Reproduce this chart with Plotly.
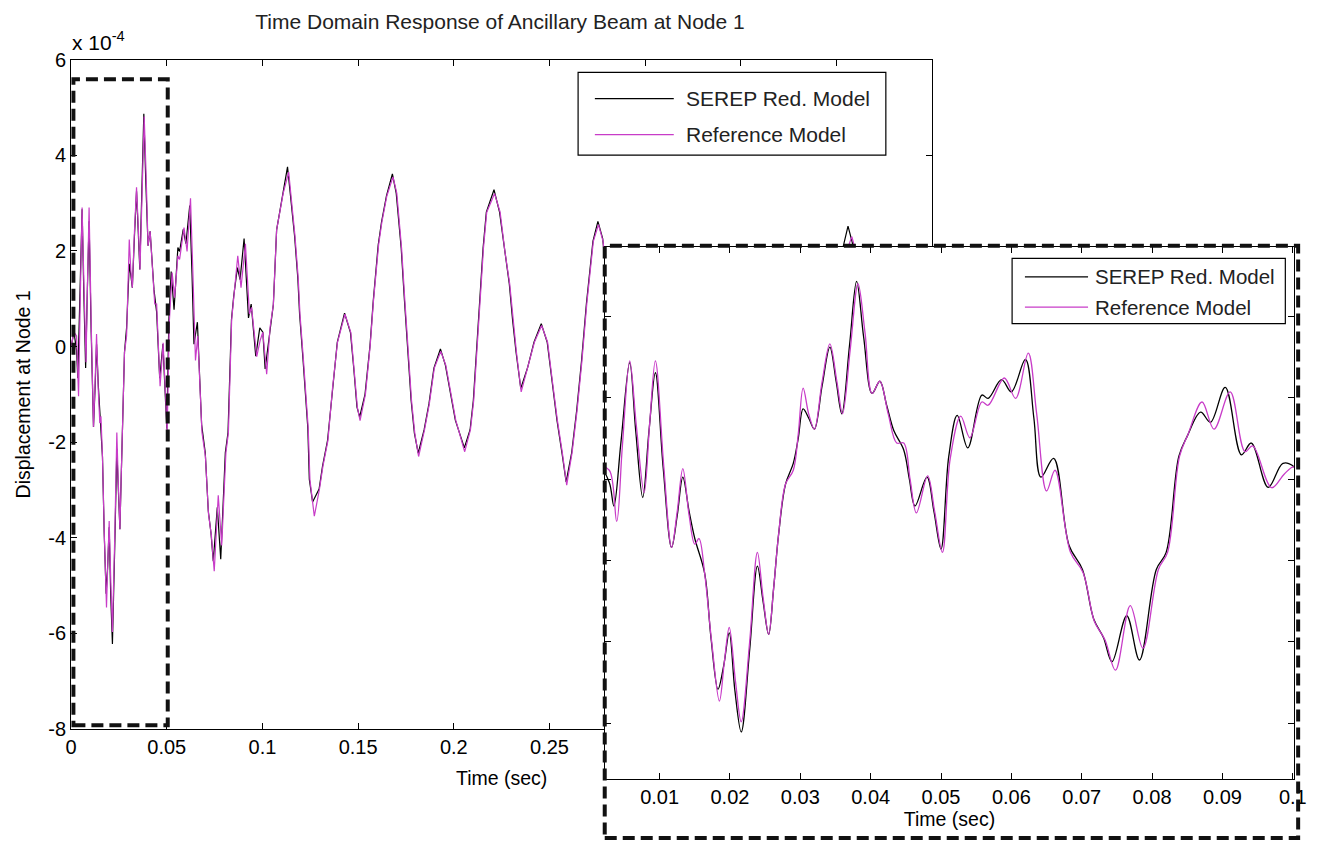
import plotly.graph_objects as go

# ---------------- data (displacement in units of 1e-4) ----------------
t_serep = [0.0, 0.0015, 0.00285, 0.0035, 0.0045, 0.00575, 0.0066, 0.0076, 0.0085, 0.0094,
           0.0105, 0.0117, 0.0125, 0.0133, 0.0142, 0.015, 0.0164, 0.0173, 0.0183, 0.0191,
           0.0199, 0.0207, 0.0216, 0.0228, 0.0239, 0.0247, 0.0255, 0.0262, 0.0269, 0.0279,
           0.029, 0.0297, 0.0304, 0.0312, 0.032, 0.0331, 0.0342, 0.0351, 0.0359, 0.037,
           0.038, 0.039, 0.0402, 0.0413, 0.0423, 0.0433, 0.0447, 0.0455, 0.0463, 0.048,
           0.049, 0.05, 0.0511, 0.0523, 0.0538, 0.0558, 0.0567, 0.0586, 0.06, 0.062,
           0.0632, 0.0642, 0.066, 0.0682, 0.0701, 0.0717, 0.0731, 0.0743, 0.0764, 0.0782,
           0.0806, 0.082, 0.0838, 0.085, 0.0869, 0.0883, 0.0904, 0.0927, 0.0941, 0.0965,
           0.0986, 0.1002, 0.1014, 0.104, 0.1057, 0.1074, 0.1091, 0.1108, 0.1131, 0.1151,
           0.1168, 0.1185, 0.1194, 0.1212, 0.1237, 0.1245, 0.1262, 0.1296, 0.1314, 0.134,
           0.1365, 0.1391, 0.1429, 0.146, 0.1477, 0.1494, 0.1508, 0.1536, 0.1562, 0.1579,
           0.1605, 0.1622, 0.1648, 0.1679, 0.1699, 0.1725, 0.1742, 0.176, 0.1777, 0.1794,
           0.1814, 0.1845, 0.187, 0.1896, 0.193, 0.1956, 0.1982, 0.2008, 0.2055, 0.2085,
           0.2102, 0.2119, 0.2136, 0.2153, 0.217, 0.221, 0.2239, 0.2265, 0.229, 0.2307,
           0.2325, 0.235, 0.2385, 0.2419, 0.2457, 0.2488, 0.2513, 0.2539, 0.2565, 0.2587,
           0.2616, 0.2642, 0.2667, 0.2693, 0.2727, 0.2753, 0.2778, 0.282, 0.288, 0.296,
           0.304, 0.31, 0.316, 0.322, 0.33, 0.338, 0.346, 0.354, 0.362, 0.37,
           0.378, 0.386, 0.394, 0.4, 0.406, 0.412, 0.42, 0.428, 0.436, 0.444, 0.45]
serep = [0.0, 0.3, -0.08, -0.66, 0.9, 2.87, 1.2, -0.45, 1.2, 2.62,
         0.3, -1.68, -0.9, 0.05, -0.8, -1.46, -2.31, -3.9, -5.17, -4.6,
         -3.78, -5.2, -6.22, -4.2, -2.14, -3.0, -3.82, -2.7, -1.38, -0.12,
         0.39, 1.0, 1.73, 1.5, 1.23, 2.3, 3.25, 2.4, 1.61, 3.3,
         4.87, 3.5, 2.11, 2.41, 1.8, 1.19, 0.72, 0.0, -0.66, 0.05,
         -0.8, -1.72, 0.56, 1.57, 0.77, 2.07, 1.99, 2.45, 2.15, 2.95,
         1.5, 0.05, 0.51, -1.63, -2.22, -3.44, -3.9, -4.49, -3.36, -4.45,
         -2.22, -1.8, 0.56, 1.06, 1.65, 1.4, 2.26, 0.6, 0.89, -0.2,
         0.39, 0.3, -0.47, 0.41, 0.88, 2.44, 2.81, 3.25, 3.76, 2.98,
         2.31, 1.42, 0.68, -0.27, -1.7, -2.78, -3.25, -2.98, -2.5, -1.97,
         -0.88, 0.09, 0.7, 0.29, -0.45, -1.27, -1.47, -1.0, 0.02, 0.95,
         2.13, 2.6, 3.15, 3.61, 3.21, 2.06, 0.97, -0.1, -1.13, -1.81,
         -2.23, -1.74, -1.2, -0.45, -0.05, -0.39, -0.93, -1.54, -2.12, -1.74,
         -1.13, -0.11, 0.87, 2.06, 2.81, 3.28, 2.81, 1.99, 1.31, 0.56,
         -0.11, -0.875, -0.45, 0.09, 0.48, 0.09, -0.72, -1.54, -2.22, -2.83,
         -2.22, -1.34, -0.32, 0.9, 2.2, 2.62, 2.26, 0.5, -1.5, -2.6,
         -1.2, -0.3, -0.8, 0.2, 1.9, 0.8, -1.2, -1.9, -0.8, 0.3,
         -0.2, -0.9, 0.2, 1.5, 2.52, 1.6, -0.2, -1.5, -1.0, 0.2, 0.6]

t_ref = [0.0, 0.0015, 0.00285, 0.0039, 0.0047, 0.00575, 0.0067, 0.0078, 0.0086, 0.0094,
         0.0106, 0.0117, 0.0125, 0.0133, 0.0142, 0.015, 0.0156, 0.0164, 0.0174, 0.0185,
         0.0192, 0.0199, 0.0208, 0.0216, 0.0228, 0.0239, 0.0247, 0.0255, 0.0262, 0.0269,
         0.0279, 0.029, 0.0297, 0.0304, 0.0312, 0.032, 0.0331, 0.0342, 0.0352, 0.036,
         0.0371, 0.0382, 0.0392, 0.0402, 0.0413, 0.0425, 0.0437, 0.0447, 0.0456, 0.0465,
         0.0481, 0.0491, 0.0502, 0.0513, 0.0528, 0.0541, 0.0558, 0.0567, 0.059, 0.0606,
         0.0624, 0.0636, 0.065, 0.0662, 0.0684, 0.0702, 0.0718, 0.0733, 0.0748, 0.0769,
         0.0787, 0.0809, 0.0822, 0.0839, 0.0851, 0.0871, 0.0888, 0.0911, 0.0932, 0.0943,
         0.097, 0.0988, 0.1002, 0.1022, 0.104, 0.1057, 0.1074, 0.1091, 0.1108, 0.1137,
         0.1155, 0.117, 0.1187, 0.1196, 0.1214, 0.1239, 0.1248, 0.1271, 0.1298, 0.1316,
         0.1342, 0.1366, 0.1392, 0.1431, 0.1462, 0.1479, 0.1496, 0.151, 0.1538, 0.1563,
         0.158, 0.1607, 0.1624, 0.165, 0.1682, 0.1702, 0.1727, 0.1744, 0.1762, 0.1779,
         0.1796, 0.1816, 0.1847, 0.1872, 0.1898, 0.1932, 0.1958, 0.1984, 0.201, 0.2057,
         0.2087, 0.2104, 0.2121, 0.2138, 0.2155, 0.2172, 0.2213, 0.2242, 0.2267, 0.2292,
         0.2309, 0.2327, 0.2352, 0.2387, 0.2421, 0.2459, 0.249, 0.2515, 0.2541, 0.2567,
         0.259, 0.2618, 0.2644, 0.2669, 0.2695, 0.2729, 0.2756, 0.278, 0.282, 0.288,
         0.296, 0.304, 0.31, 0.316, 0.322, 0.33, 0.338, 0.346, 0.354, 0.362,
         0.37, 0.378, 0.386, 0.394, 0.4, 0.408, 0.414, 0.42, 0.428, 0.436, 0.444, 0.45]
ref = [0.0, 0.3, 0.22, -1.04, 0.8, 2.91, 1.3, -0.33, 1.4, 2.91,
       0.3, -1.68, -0.8, 0.26, -0.9, -1.6, -1.46, -2.31, -4.0, -5.46,
       -4.5, -3.65, -5.0, -5.97, -4.0, -1.8, -2.9, -3.82, -2.7, -1.38,
       -0.12, 0.22, 1.1, 2.24, 1.6, 1.23, 2.4, 3.33, 2.4, 1.61,
       3.2, 4.81, 3.6, 2.11, 2.41, 1.6, 0.89, 0.89, 0.0, -0.83,
       0.08, -0.8, -1.8, 0.5, 1.55, 1.02, 1.9, 1.82, 2.49, 1.99,
       3.1, 1.6, -0.29, 0.22, -1.8, -2.3, -3.5, -3.95, -4.7, -3.11,
       -4.16, -2.22, -1.8, 0.56, 1.1, 1.9, 1.23, 2.15, 0.68, 0.82,
       -0.21, 0.13, 0.3, -0.58, 0.41, 0.88, 2.44, 2.81, 3.2, 3.65,
       2.95, 2.31, 1.42, 0.68, -0.27, -1.7, -2.78, -3.55, -2.98, -2.5,
       -1.97, -0.88, 0.09, 0.68, 0.29, -0.45, -1.27, -1.55, -1.0, 0.02,
       0.95, 2.13, 2.6, 3.15, 3.55, 3.21, 2.06, 0.97, -0.1, -1.13,
       -1.81, -2.3, -1.74, -1.2, -0.45, -0.1, -0.39, -0.93, -1.54, -2.2,
       -1.74, -1.13, -0.11, 0.87, 2.06, 2.81, 3.2, 2.81, 1.99, 1.31,
       0.56, -0.11, -0.95, -0.45, 0.09, 0.44, 0.09, -0.72, -1.54, -2.22,
       -2.9, -2.22, -1.34, -0.32, 0.9, 2.2, 2.55, 2.2, 0.5, -1.5,
       -2.6, -1.2, -0.3, -0.8, 0.2, 1.85, 0.8, -1.2, -1.9, -0.8,
       0.3, -0.2, -0.9, 0.2, 1.4, 2.3, 1.4, -0.2, -1.5, -1.0, 0.2, 0.6]

main_xticks = [0, 0.05, 0.1, 0.15, 0.2, 0.25]
main_xticklabels = ["0", "0.05", "0.1", "0.15", "0.2", "0.25"]
main_yticks = [-8, -6, -4, -2, 0, 2, 4, 6]
inset_xticks = [0.01, 0.02, 0.03, 0.04, 0.05, 0.06, 0.07, 0.08, 0.09, 0.1]
inset_xticklabels = ["0.01", "0.02", "0.03", "0.04", "0.05", "0.06", "0.07", "0.08", "0.09", "0.1"]
inset_yticks = [-6, -4, -2, 0, 2, 4]
series_names = ["SEREP Red. Model", "Reference Model"]

# ---------------- layout helpers (positions in window pixels) ----------------
W, H = 1321, 853
def PX(px):
    return px / W
def PY(py):
    return 1 - py / H

BLACK = "#000000"
MAG = "#c83cc8"
FONT = "Liberation Sans, Arial, Helvetica, sans-serif"

fig = go.Figure()

fig.add_trace(go.Scatter(x=t_serep, y=serep, mode="lines", name=series_names[0],
                         line=dict(color=BLACK, width=1.2), xaxis="x", yaxis="y", showlegend=False))
fig.add_trace(go.Scatter(x=t_ref, y=ref, mode="lines", name=series_names[1],
                         line=dict(color=MAG, width=1.2), xaxis="x", yaxis="y", showlegend=False))
fig.add_trace(go.Scatter(x=t_serep, y=serep, mode="lines", name=series_names[0],
                         line=dict(color=BLACK, width=1.3, shape="spline", smoothing=1.0),
                         xaxis="x2", yaxis="y2", showlegend=False))
fig.add_trace(go.Scatter(x=t_ref, y=ref, mode="lines", name=series_names[1],
                         line=dict(color=MAG, width=1.3, shape="spline", smoothing=1.0),
                         xaxis="x2", yaxis="y2", showlegend=False))

axis_common = dict(showgrid=False, zeroline=False, showline=True, linecolor=BLACK, linewidth=1,
                   ticks="inside", ticklen=6, tickcolor=BLACK, tickwidth=1, mirror="ticks",
                   tickfont=dict(family=FONT, size=20, color=BLACK))

fig.update_layout(
    width=W, height=H,
    margin=dict(l=0, r=0, t=0, b=0),
    paper_bgcolor="white", plot_bgcolor="white",
    font=dict(family=FONT, color=BLACK),
    title=dict(text="Time Domain Response of Ancillary Beam at Node 1",
               x=PX(500), y=PY(22), xanchor="center", yanchor="middle",
               font=dict(family=FONT, size=21, color="#222222")),
    xaxis=dict(domain=[PX(66), PX(939)], range=[0, 0.45], tickmode="array",
               tickvals=main_xticks, ticktext=main_xticklabels,
               minor=dict(dtick=0.05, tick0=0, ticks="inside", ticklen=6, tickcolor=BLACK),
               title=dict(text="Time (sec)", font=dict(family=FONT, size=19.5), standoff=14),
               anchor="y", **axis_common),
    yaxis=dict(domain=[PY(737), PY(50)], range=[-8, 6], tickmode="array",
               tickvals=main_yticks, ticktext=[str(v) for v in main_yticks],
               title=dict(text="Displacement at Node 1", font=dict(family=FONT, size=19.5), standoff=12),
               anchor="x", **axis_common),
    xaxis2=dict(domain=[PX(607), PX(1306)], range=[0.0022, 0.1002], tickmode="array",
                tickvals=inset_xticks, ticktext=inset_xticklabels,
                title=dict(text="Time (sec)", font=dict(family=FONT, size=19.5), standoff=5),
                anchor="y2", **axis_common),
    yaxis2=dict(domain=[PY(788), PY(242)], range=[-7.37, 5.72], tickmode="array",
                tickvals=inset_yticks, showticklabels=False, anchor="x2", **axis_common),
)

shapes = []
# dashed zoom box on the main plot (data coords)
shapes.append(dict(type="rect", xref="x", yref="y", x0=0.0012, x1=0.0505, y0=-7.92, y1=5.59,
                   line=dict(color="#111111", width=4, dash="12px,6px"), layer="above"))
# dashed frame around the inset
shapes.append(dict(type="rect", xref="paper", yref="paper", x0=PX(607), x1=PX(1310),
                   y0=PY(849), y1=PY(241), line=dict(color="#111111", width=4, dash="12px,6px"),
                   layer="above"))

annotations = []
def legend(box, line_x, text_x, rows, size):
    x0, x1, y0, y1 = box
    shapes.append(dict(type="rect", xref="paper", yref="paper", x0=PX(x0), x1=PX(x1),
                       y0=PY(y1), y1=PY(y0), line=dict(color=BLACK, width=1.2),
                       fillcolor="white", layer="above"))
    for name, color, ry in zip(series_names, [BLACK, MAG], rows):
        shapes.append(dict(type="line", xref="paper", yref="paper", x0=PX(line_x[0]), x1=PX(line_x[1]),
                           y0=PY(ry), y1=PY(ry), line=dict(color=color, width=1.2), layer="above"))
        annotations.append(dict(text=name, xref="paper", yref="paper", x=PX(text_x), y=PY(ry),
                                xanchor="left", yanchor="middle", showarrow=False,
                                font=dict(family=FONT, size=size, color="#222222")))

legend((580, 892, 63, 148), (597, 677), 687, (90, 127), 21)
legend((1020, 1297, 254, 321), (1033, 1097), 1102, (273, 304), 20.5)

annotations.append(dict(text="x 10<sup>-4</sup>", xref="paper", yref="paper", x=PX(65), y=PY(31),
                        xanchor="left", yanchor="middle", showarrow=False,
                        font=dict(family=FONT, size=21, color=BLACK)))

fig.update_layout(shapes=shapes, annotations=annotations)
fig.write_html("out.html")
